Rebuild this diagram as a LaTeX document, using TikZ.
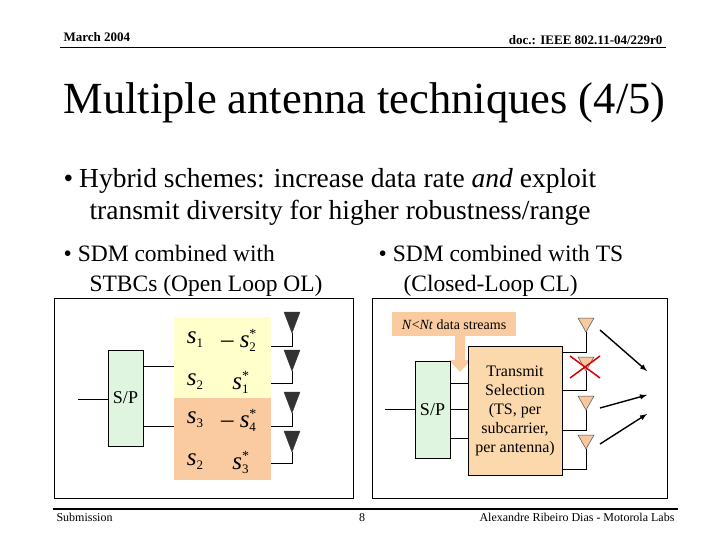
\documentclass[tikz,border=0pt]{standalone}
\usepackage{fontspec}
\setmainfont{Liberation Serif}
\usetikzlibrary{shapes.geometric}
\definecolor{spg}{HTML}{DFF5DF}
\definecolor{yel}{HTML}{FFFFCC}
\definecolor{ora}{HTML}{FACBA0}
\definecolor{tso}{HTML}{FCD9AC}
\definecolor{lab}{HTML}{FACBA0}
\definecolor{antd}{HTML}{333333}
\definecolor{anto}{HTML}{F8C9A0}
\newcommand{\sv}[3]{#1\textit{s}\makebox[0pt][l]{\raisebox{-4pt}{\fontsize{13}{13}\selectfont #2}}\raisebox{9pt}{\fontsize{14}{14}\selectfont #3}\phantom{\fontsize{13}{13}\selectfont #2}}
\tikzset{
  ln/.style={line width=0.8pt},
  spbox/.style={draw,ln,fill=spg},
  adark/.style={fill=antd,draw=antd},
  aora/.style={fill=anto,draw=black!70,line width=0.5pt},
  mth/.style={font=\fontsize{25}{25}\selectfont},
  big/.style={anchor=base west,font=\fontsize{27.5}{30}\selectfont},
  mid/.style={anchor=base west,font=\fontsize{23.5}{24}\selectfont},
}
\begin{document}
\begin{tikzpicture}[x=1pt,y=-1pt]
\useasboundingbox (0,0) rectangle (720,540);
\fill[white] (0,0) rectangle (720,540);
% header
\node[anchor=base west,font=\fontsize{13}{13}\selectfont\bfseries] (hd1) at (60,42) {March 2004};
\node[anchor=base east,font=\fontsize{13}{13}\selectfont\bfseries] (hd2) at (666,45) {doc.: IEEE 802.11-04/229r0};
\draw[line width=1.5pt] (60,47.5) coordinate (hl) -- (666,47.5) coordinate (hr);
\node[anchor=base west,font=\fontsize{44.5}{45}\selectfont] (title) at (60,114) {Multiple antenna techniques (4/5)};
\node[big] (b1) at (60,188) {•\hspace{6pt}Hybrid schemes: increase data rate \textit{and} exploit};
\node[big] (b1b) at (86,219) {transmit diversity for higher robustness/range};
\node[mid] (l1) at (60,261) {•\hspace{6pt}SDM combined with};
\node[mid] (l2) at (86,291) {STBCs (Open Loop OL)};
\node[mid] (r1) at (375,261) {•\hspace{6pt}SDM combined with TS};
\node[mid] (r2) at (400,291) {(Closed-Loop CL)};
% panels
\draw[ln] (54,298) rectangle (353,498);
\draw[ln] (372,298) rectangle (667,498);
% left panel
\fill[yel] (174,317) rectangle (271,398);
\fill[ora] (174,398) rectangle (271,480);
\node[spbox,minimum width=35pt,minimum height=96pt,font=\fontsize{18}{18}\selectfont] (sp1) at (125.5,398) {S/P};
\coordinate (in1) at (78,399);
\draw[ln] (in1) -- (sp1.west |- in1);
\draw[ln] (sp1.east |- 0,366) -- (174,366);
\draw[ln] (sp1.east |- 0,426) -- (174,426);
\foreach \i/\ty/\ly in {1/312/346,2/350/383,3/392/426,4/431/463}{
  \fill[adark] (284,\ty) -- (300,\ty) -- (292,\ty+21) -- cycle;
  \draw[ln] (292,\ty+21) -- (292,\ly) -- (271,\ly);
}
\node[mth] (m11) at (195,340) {\sv{}{1}{}};
\node[mth] (m12) at (242,340) {\sv{– }{2}{*}};
\node[mth] (m21) at (195,382) {\sv{}{2}{}};
\node[mth] (m22) at (244,382) {\sv{}{1}{*}};
\node[mth] (m31) at (195,420) {\sv{}{3}{}};
\node[mth] (m32) at (242,420) {\sv{– }{4}{*}};
\node[mth] (m41) at (195,462) {\sv{}{2}{}};
\node[mth] (m42) at (244,462) {\sv{}{3}{*}};
% right panel
\fill[lab] (392,312) rectangle (516,336);
\node[font=\fontsize{14}{13}\selectfont] (lbl) at (454,325) {\textit{N}<\textit{Nt} data streams};
\fill[lab] (455,336) -- (465,336) -- (465,360) -- (471,360) -- (460,372) -- (449,360) -- (455,360) -- cycle;
\node[spbox,minimum width=35pt,minimum height=97pt,font=\fontsize{18}{18}\selectfont] (sp2) at (432.5,409.5) {S/P};
\coordinate (in2) at (385,409);
\draw[ln] (in2) -- (sp2.west |- in2);
\node[draw,ln,fill=tso,minimum width=94pt,minimum height=129pt,align=center,font=\fontsize{16}{19}\selectfont] (ts) at (515,410.5) {Transmit\\Selection\\(TS, per\\subcarrier,\\per antenna)};
\foreach \y in {383,409,438}{ \draw[ln] (sp2.east |- 0,\y) -- (ts.west |- 0,\y); }
\foreach \i/\ty/\ly in {1/318/352,2/357/390,3/396/430,4/435/469}{
  \filldraw[aora] (578,\ty) -- (594,\ty) -- (586,\ty+14) -- cycle;
  \draw[line width=0.6pt] (586,\ty+14) -- (586,\ly) -- (562,\ly);
}
\draw[red!85!black,line width=1.5pt] (570,356) -- (600,378) (570,378) -- (600,356);
\draw[-latex,line width=1.4pt] (600,330) coordinate (a1) -- (647,371) coordinate (t1);
\draw[-latex,line width=1.4pt] (600,408) coordinate (a2) -- (647,395) coordinate (t2);
\draw[-latex,line width=1.4pt] (600,444) coordinate (a3) -- (647,414) coordinate (t3);
% footer
\draw[line width=1.5pt] (53,509) coordinate (fl) -- (678,509) coordinate (fr);
\node[anchor=base west,font=\fontsize{12}{12}\selectfont] (f1) at (53,521) {Submission};
\node[anchor=base,font=\fontsize{12}{12}\selectfont] (f2) at (362,521) {8};
\node[anchor=base east,font=\fontsize{12}{12}\selectfont] (f3) at (678,521) {Alexandre Ribeiro Dias - Motorola Labs};
\end{tikzpicture}
\end{document}
